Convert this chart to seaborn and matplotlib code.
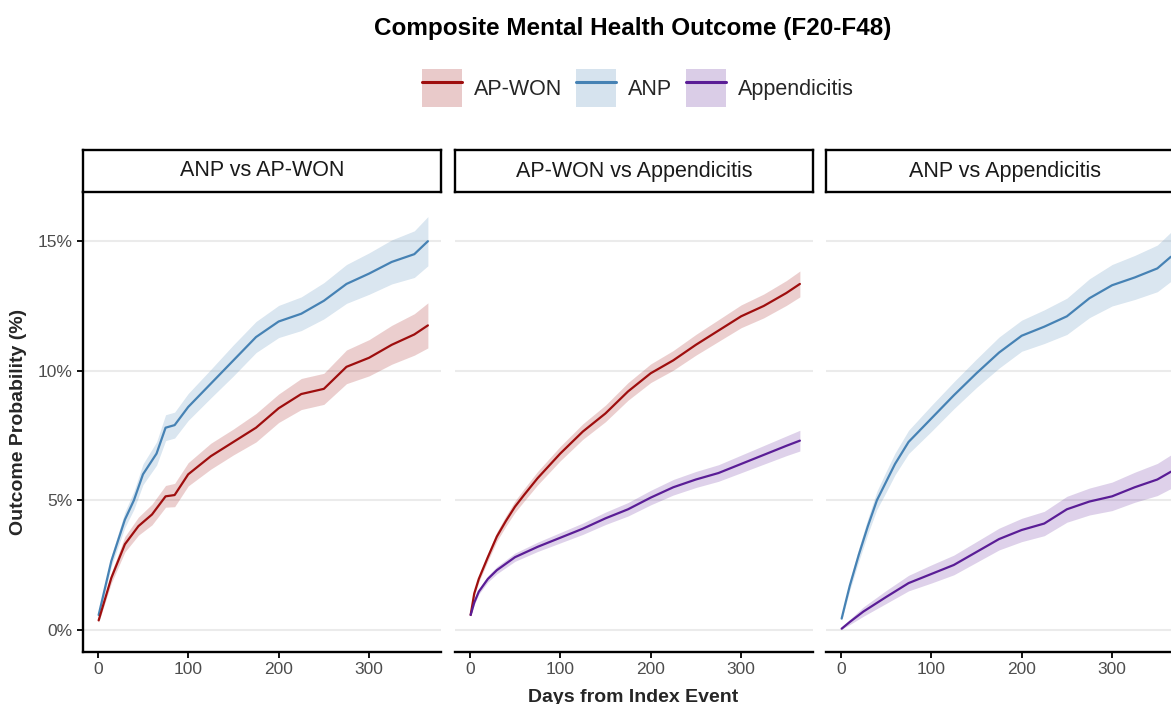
import numpy as np
import pandas as pd
import matplotlib
matplotlib.use("Agg")
import matplotlib.pyplot as plt
from matplotlib.patches import Patch
from matplotlib.lines import Line2D
from matplotlib.legend_handler import HandlerTuple
import seaborn as sns

# ---------------- data ----------------
panels = ["ANP vs AP-WON", "AP-WON vs Appendicitis", "ANP vs Appendicitis"]
groups = ["AP-WON", "ANP", "Appendicitis"]

# Panel 1: ANP vs AP-WON
p1_anp_days = [1, 15, 30, 40, 50, 65, 75, 85, 100, 125, 150, 175, 200, 225, 250, 275, 300, 325, 350, 365]
p1_anp_prob = [0.57, 2.65, 4.25, 5.0, 6.0, 6.8, 7.8, 7.9, 8.6, 9.5, 10.4, 11.3, 11.9, 12.2, 12.7, 13.35, 13.75, 14.2, 14.5, 15.0]
p1_anp_ci = [0.10, 0.20, 0.30, 0.35, 0.40, 0.45, 0.50, 0.50, 0.52, 0.55, 0.60, 0.60, 0.62, 0.65, 0.70, 0.75, 0.80, 0.85, 0.90, 0.95]

p1_won_days = [1, 15, 30, 45, 60, 75, 85, 100, 125, 150, 175, 200, 225, 250, 275, 300, 325, 350, 365]
p1_won_prob = [0.36, 2.0, 3.3, 4.0, 4.45, 5.15, 5.2, 6.0, 6.7, 7.25, 7.8, 8.55, 9.1, 9.3, 10.15, 10.5, 11.0, 11.4, 11.75]
p1_won_ci = [0.08, 0.20, 0.30, 0.35, 0.40, 0.42, 0.45, 0.45, 0.50, 0.50, 0.55, 0.55, 0.60, 0.60, 0.65, 0.70, 0.75, 0.80, 0.87]

# Panel 2: AP-WON vs Appendicitis
p2_won_days = [1, 5, 10, 20, 30, 40, 50, 60, 75, 100, 125, 150, 175, 200, 225, 250, 275, 300, 325, 350, 365]
p2_won_prob = [0.57, 1.4, 1.96, 2.8, 3.6, 4.2, 4.75, 5.2, 5.85, 6.8, 7.65, 8.35, 9.2, 9.9, 10.4, 11.0, 11.55, 12.1, 12.5, 13.0, 13.35]
p2_won_ci = [0.05, 0.10, 0.12, 0.15, 0.18, 0.20, 0.22, 0.24, 0.26, 0.28, 0.30, 0.32, 0.34, 0.36, 0.38, 0.40, 0.42, 0.44, 0.46, 0.48, 0.50]

p2_app_days = [1, 5, 10, 20, 30, 50, 75, 100, 125, 150, 175, 200, 225, 250, 275, 300, 325, 350, 365]
p2_app_prob = [0.57, 1.05, 1.47, 1.96, 2.3, 2.8, 3.2, 3.55, 3.9, 4.3, 4.65, 5.1, 5.5, 5.8, 6.05, 6.4, 6.75, 7.1, 7.3]
p2_app_ci = [0.05, 0.08, 0.10, 0.12, 0.14, 0.16, 0.18, 0.20, 0.22, 0.24, 0.26, 0.28, 0.30, 0.31, 0.32, 0.34, 0.36, 0.38, 0.40]

# Panel 3: ANP vs Appendicitis
p3_anp_days = [1, 5, 10, 20, 30, 40, 50, 60, 75, 100, 125, 150, 175, 200, 225, 250, 275, 300, 325, 350, 365]
p3_anp_prob = [0.43, 1.0, 1.7, 2.9, 4.0, 5.0, 5.7, 6.4, 7.25, 8.15, 9.05, 9.9, 10.7, 11.35, 11.7, 12.1, 12.8, 13.3, 13.6, 13.95, 14.4]
p3_anp_ci = [0.08, 0.12, 0.18, 0.25, 0.30, 0.35, 0.40, 0.42, 0.45, 0.50, 0.52, 0.55, 0.60, 0.60, 0.65, 0.70, 0.75, 0.80, 0.85, 0.90, 0.95]

p3_app_days = [1, 10, 25, 50, 75, 100, 125, 150, 175, 200, 225, 250, 275, 300, 325, 350, 365]
p3_app_prob = [0.04, 0.3, 0.7, 1.26, 1.8, 2.15, 2.5, 3.0, 3.5, 3.85, 4.1, 4.65, 4.95, 5.15, 5.5, 5.8, 6.1]
p3_app_ci = [0.02, 0.10, 0.18, 0.25, 0.30, 0.35, 0.38, 0.40, 0.42, 0.45, 0.47, 0.50, 0.52, 0.55, 0.58, 0.62, 0.65]

x_ticks = [0, 100, 200, 300]
y_ticks = [0, 5, 10, 15]
y_tick_labels = ["0%", "5%", "10%", "15%"]

colors = {"AP-WON": "#9E0E0E", "ANP": "#4682B4", "Appendicitis": "#5A1D96"}

panel_series = [
    [("ANP", p1_anp_days, p1_anp_prob, p1_anp_ci), ("AP-WON", p1_won_days, p1_won_prob, p1_won_ci)],
    [("AP-WON", p2_won_days, p2_won_prob, p2_won_ci), ("Appendicitis", p2_app_days, p2_app_prob, p2_app_ci)],
    [("ANP", p3_anp_days, p3_anp_prob, p3_anp_ci), ("Appendicitis", p3_app_days, p3_app_prob, p3_app_ci)],
]

# ---------------- styling ----------------
sns.set_theme(style="white")
plt.rcParams["font.family"] = ["Liberation Sans", "DejaVu Sans"]

W, H = 1171, 704
fig = plt.figure(figsize=(W / 100, H / 100), dpi=100)

lefts = [83, 455, 826]
pw = 358
top_px, bot_px = 192, 652
strip_top = 150

for i, (title, series) in enumerate(zip(panels, panel_series)):
    ax = fig.add_axes([lefts[i] / W, 1 - bot_px / H, pw / W, (bot_px - top_px) / H])
    rows = []
    for g, d, p, c in series:
        for dd, pp in zip(d, p):
            rows.append({"day": dd, "prob": pp, "group": g})
    df = pd.DataFrame(rows)
    for g, d, p, c in series:
        lo = np.array(p) - np.array(c)
        hi = np.array(p) + np.array(c)
        ax.fill_between(d, lo, hi, color=colors[g], alpha=0.2, linewidth=0, zorder=2)
    sns.lineplot(data=df, x="day", y="prob", hue="group", palette=colors, ax=ax,
                 legend=False, linewidth=1.6, zorder=3)
    for yt in y_ticks:
        ax.axhline(yt, color="#EBEBEB", linewidth=1.5, zorder=1)
    ax.set_xlim(-16.3, 379.5)
    ax.set_ylim(-0.86, 16.9)
    ax.set_xticks(x_ticks)
    ax.set_xticklabels([str(t) for t in x_ticks], fontsize=12.5, color="#4D4D4D")
    ax.set_xlabel("")
    ax.set_ylabel("")
    for s in ["top", "right"]:
        ax.spines[s].set_visible(False)
    ax.spines["bottom"].set_color("black")
    ax.spines["bottom"].set_linewidth(1.7)
    if i == 0:
        ax.set_yticks(y_ticks)
        ax.set_yticklabels(y_tick_labels, fontsize=12.5, color="#4D4D4D")
        ax.spines["left"].set_color("black")
        ax.spines["left"].set_linewidth(1.7)
        ax.tick_params(axis="y", length=4.5, width=1.3, color="black", left=True, pad=3)
    else:
        ax.spines["left"].set_visible(False)
        ax.set_yticks(y_ticks)
        ax.tick_params(axis="y", left=False, labelleft=False)
    ax.tick_params(axis="x", length=4.5, width=1.3, color="black", bottom=True, pad=3)

    # facet strip
    sax = fig.add_axes([lefts[i] / W, 1 - top_px / H, pw / W, (top_px - strip_top) / H])
    sax.set_xticks([]); sax.set_yticks([])
    sax.set_facecolor("white")
    for s in sax.spines.values():
        s.set_color("black"); s.set_linewidth(1.7)
    sax.text(0.5, 0.5, title, ha="center", va="center", fontsize=15.5, color="#1A1A1A",
             transform=sax.transAxes)

cx = 633 / W
fig.text(cx, 1 - 29 / H, "Composite Mental Health Outcome (F20-F48)", ha="center", va="center",
         fontsize=17.5, fontweight="bold", color="black")
fig.text(0.0154, 1 - 422 / H, "Outcome Probability (%)", rotation=90, ha="center", va="center",
         fontsize=14, fontweight="bold")
fig.text(cx, 1 - 697 / H, "Days from Index Event", ha="center", va="center",
         fontsize=14, fontweight="bold")

handles = []
for g in groups:
    handles.append((Patch(facecolor=colors[g], alpha=0.22, edgecolor="none"),
                    Line2D([], [], color=colors[g], linewidth=2.2)))
fig.legend(handles, groups, handler_map={tuple: HandlerTuple(ndivide=1, pad=0)},
           loc="center", bbox_to_anchor=(638 / W, 1 - 88 / H), ncol=3, frameon=False,
           fontsize=15.5, handlelength=1.86, handleheight=2.4, handletextpad=0.55,
           columnspacing=0.65)

fig.savefig("out.png", dpi=100)
